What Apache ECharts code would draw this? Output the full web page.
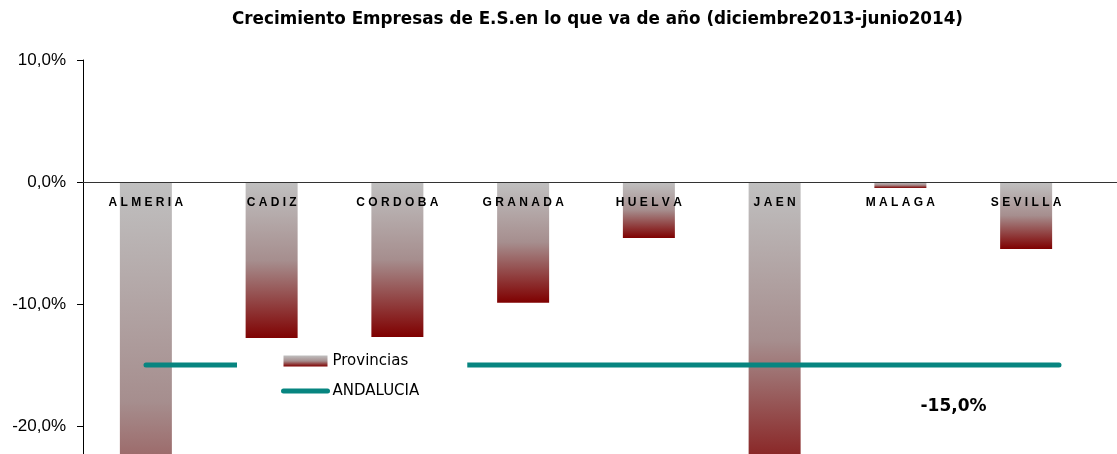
<!DOCTYPE html>
<html>
<head>
<meta charset="utf-8">
<script src="https://cdn.jsdelivr.net/npm/echarts@6/dist/echarts.min.js"></script>
<style>
  html, body { margin: 0; padding: 0; background: #fff; }
  #main { width: 1117px; height: 454px; }
</style>
</head>
<body>
<div id="main"></div>
<script>
// datos del grafico
var provincias = ['ALMERIA', 'CADIZ', 'CORDOBA', 'GRANADA', 'HUELVA', 'JAEN', 'MALAGA', 'SEVILLA'];
var crecimiento = [-36.0, -12.9, -12.7, -9.9, -4.6, -26.0, -0.5, -5.5];
var andalucia = [-15.0, -15.0, -15.0, -15.0, -15.0, -15.0, -15.0, -15.0];
var yTicks = [-20, -10, 0, 10];

var myChart = echarts.init(document.getElementById('main'));

// degradado gris -> granate de cada barra
var degradado = new echarts.graphic.LinearGradient(0, 0, 0, 1, [
  {offset: 0, color: '#c0c0c0'},
  {offset: 0.5, color: '#a68e8e'},
  {offset: 1, color: '#7f0000'}
]);

function pct(v) {
  return v.toFixed(1).replace('.', ',') + '%';
}

// el grafico original queda cortado por abajo
var yMin = -22.3, yMax = 10;
var gridTop = 60, alto = 454, gridRight = 28;
var ceroY = gridTop + (alto - gridTop) * yMax / (yMax - yMin);

var option = {
  animation: false,
  backgroundColor: '#fff',
  title: {
    text: 'Crecimiento Empresas de E.S.en lo que va de año (diciembre2013-junio2014)',
    left: 227,
    top: 6,
    textStyle: {fontFamily: 'DejaVu Sans', fontWeight: 'bold', fontSize: 16.8, color: '#000'}
  },
  legend: {
    orient: 'vertical',
    left: 237,
    top: 338,
    padding: [14, 48, 10, 44],
    backgroundColor: '#fff',
    itemWidth: 44,
    itemHeight: 11,
    itemGap: 12,
    textStyle: {fontFamily: 'DejaVu Sans', fontSize: 15, color: '#000', lineHeight: 18},
    lineStyle: {width: 5, cap: 'round'},
    data: [
      {name: 'Provincias', icon: 'rect'},
      {name: 'ANDALUCIA', itemStyle: {color: 'transparent', borderColor: 'transparent', borderWidth: 0}}
    ]
  },
  // el eje X sigue hasta el borde derecho
  graphic: [{
    type: 'line',
    z: 5,
    shape: {x1: 1117 - gridRight, y1: Math.round(ceroY) + 0.5, x2: 1117, y2: Math.round(ceroY) + 0.5},
    style: {stroke: '#333', lineWidth: 1}
  }],
  grid: [
    {left: 83, right: gridRight, top: gridTop, bottom: 0},
    {left: 146, right: 58, top: gridTop, bottom: 0}
  ],
  xAxis: [
    {
      type: 'category',
      gridIndex: 0,
      data: provincias,
      z: 5,
      offset: -(alto - ceroY),
      axisLine: {onZero: false, lineStyle: {color: '#333', width: 1}},
      axisTick: {length: 5, lineStyle: {color: '#333'}},
      axisLabel: {
        margin: 15,
        fontFamily: 'Liberation Sans',
        fontWeight: 'bold',
        fontSize: 12,
        color: '#000',
        formatter: function (v) { return v.split('').join(' '); }
      }
    },
    {
      type: 'category',
      gridIndex: 1,
      data: provincias,
      boundaryGap: false,
      show: false
    }
  ],
  yAxis: [
    {
      type: 'value',
      gridIndex: 0,
      min: yMin,
      max: yMax,
      splitLine: {show: false},
      axisLine: {show: true, lineStyle: {color: '#000', width: 1}},
      axisTick: {show: true, length: 6, lineStyle: {color: '#000'}, customValues: yTicks},
      axisLabel: {
        margin: 17,
        fontFamily: 'Liberation Sans',
        fontSize: 17,
        color: '#000',
        customValues: yTicks,
        formatter: pct
      }
    },
    {
      type: 'value',
      gridIndex: 1,
      min: yMin,
      max: yMax,
      show: false,
      splitLine: {show: false}
    }
  ],
  series: [
    {
      name: 'Provincias',
      type: 'bar',
      xAxisIndex: 0,
      yAxisIndex: 0,
      barWidth: 52,
      clip: false,
      data: crecimiento,
      itemStyle: {color: degradado}
    },
    {
      name: 'ANDALUCIA',
      type: 'line',
      xAxisIndex: 1,
      yAxisIndex: 1,
      symbol: 'circle',
      symbolSize: 0.01,
      showSymbol: true,
      data: andalucia.map(function (v, i) {
        if (i === 6) {
          return {
            value: v,
            label: {
              show: true,
              position: 'bottom',
              distance: 0,
              offset: [25, 33],
              formatter: function (p) { return pct(p.value); },
              fontFamily: 'DejaVu Sans',
              fontWeight: 'bold',
              fontSize: 17,
              color: '#000'
            }
          };
        }
        return v;
      }),
      lineStyle: {color: '#078580', width: 5, cap: 'round'},
      itemStyle: {color: '#078580'}
    }
  ]
};

myChart.setOption(option);
</script>
</body>
</html>
